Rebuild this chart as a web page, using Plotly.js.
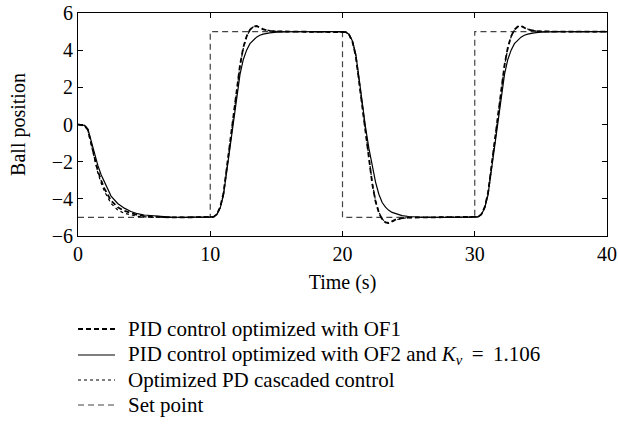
<!DOCTYPE html>
<html>
<head>
<meta charset="utf-8">
<script src="https://cdn.plot.ly/plotly-3.0.1.min.js"></script>
<style>html,body{margin:0;padding:0;background:#fff;}#chart{width:618px;height:426px;}</style>
</head>
<body>
<div id="chart"></div>
<script>
// Time samples (s)
const time = [0,0.25,0.5,0.75,1,1.25,1.5,1.75,2,2.5,3,3.5,4,4.5,5,6,7,8,10,
  10.25,10.5,10.75,11,11.25,11.5,11.75,12,12.25,12.5,12.75,13,13.25,13.5,13.75,14,14.5,15,16,18,20,
  20.25,20.5,20.75,21,21.25,21.5,21.75,22,22.25,22.5,22.75,23,23.25,23.5,23.75,24,24.5,25,26,28,30,
  30.25,30.5,30.75,31,31.25,31.5,31.75,32,32.25,32.5,32.75,33,33.25,33.5,33.75,34,34.5,35,36,38,40];

// PID control optimized with OF1 (dashed)
const pidOF1 = [0,-0.01,-0.06,-0.3,-1.0,-1.8,-2.5,-3.0,-3.45,-4.1,-4.45,-4.65,-4.78,-4.87,-4.93,-4.98,-5,-5,-5,
  -4.97,-4.83,-4.45,-3.7,-2.35,-0.85,0.55,1.9,3.2,4.15,4.75,5.1,5.27,5.3,5.22,5.12,5.04,5.01,5,5,5,
  4.97,4.83,4.45,3.7,2.35,0.85,-0.55,-1.9,-3.2,-4.15,-4.75,-5.1,-5.27,-5.3,-5.22,-5.12,-5.04,-5.01,-5,-5,-5,
  -4.97,-4.83,-4.45,-3.7,-2.35,-0.85,0.55,1.9,3.2,4.15,4.75,5.1,5.27,5.3,5.22,5.12,5.04,5.01,5,5,5];

// PID control optimized with OF2 and Kv = 1.106 (solid)
const pidOF2 = [0,-0.01,-0.05,-0.25,-0.9,-1.6,-2.2,-2.7,-3.1,-3.85,-4.25,-4.5,-4.68,-4.8,-4.87,-4.94,-4.98,-5,-5,
  -4.97,-4.85,-4.5,-3.8,-2.5,-1.05,0.3,1.6,2.7,3.5,4.0,4.35,4.55,4.7,4.8,4.86,4.93,4.97,4.99,5,5,
  4.97,4.85,4.5,3.8,2.5,1.05,-0.2,-1.3,-2.3,-3.1,-3.75,-4.2,-4.45,-4.62,-4.73,-4.8,-4.9,-4.95,-4.99,-5,-5,
  -4.97,-4.85,-4.5,-3.8,-2.5,-1.05,0.3,1.6,2.7,3.5,4.0,4.35,4.55,4.7,4.8,4.86,4.93,4.97,4.99,5,5];

// Optimized PD cascaded control (dotted)
const pdCascade = [0,-0.01,-0.06,-0.32,-1.05,-1.9,-2.6,-3.15,-3.6,-4.25,-4.6,-4.78,-4.88,-4.94,-4.97,-5,-5,-5,-5,
  -4.97,-4.83,-4.47,-3.75,-2.4,-0.9,0.5,1.85,3.15,4.1,4.72,5.08,5.26,5.31,5.24,5.14,5.05,5.01,5,5,5,
  4.97,4.83,4.47,3.75,2.4,0.9,-0.5,-1.85,-3.15,-4.1,-4.72,-5.08,-5.26,-5.31,-5.24,-5.14,-5.05,-5.01,-5,-5,-5,
  -4.97,-4.83,-4.47,-3.75,-2.4,-0.9,0.5,1.85,3.15,4.1,4.72,5.08,5.26,5.31,5.24,5.14,5.05,5.01,5,5,5];

// Set point
const spTime = [0,10,10,20,20,30,30,40];
const spValue = [-5,-5,5,5,-5,-5,5,5];

const xTicks = [0,10,20,30,40];
const yTicks = [-6,-4,-2,0,2,4,6];
const yTickText = ['\u22126','\u22124','\u22122','0','2','4','6'];

const names = ['PID control optimized with OF1',
  'PID control optimized with OF2 and <i>K</i><sub><i>v</i></sub>\u2009 = \u20091.106',
  'Optimized PD cascaded control',
  'Set point'];

const FONT = 'Liberation Serif, Times New Roman, serif';

const styles = [
  {color: '#000', width: 1.8, dash: '5px,3px'},
  {color: '#000', width: 1.2},
  {color: '#000', width: 1.2, dash: 'dot'},
  {color: '#444', width: 1.2, dash: '6px,4px'}
];

const traces = [
  {x: spTime, y: spValue, name: names[3], mode: 'lines', line: styles[3]},
  {x: time, y: pidOF2, name: names[1], mode: 'lines', line: styles[1]},
  {x: time, y: pdCascade, name: names[2], mode: 'lines', line: styles[2]},
  {x: time, y: pidOF1, name: names[0], mode: 'lines', line: styles[0]}
];

const axisCommon = {
  showline: true, mirror: 'ticks', linecolor: '#000', linewidth: 1,
  ticks: 'inside', ticklen: 5, tickcolor: '#000', tickwidth: 1,
  showgrid: false, zeroline: false,
  tickfont: {family: FONT, size: 20, color: '#000'}
};

// manual legend (below the plot)
const plotW = 529, plotH = 223;
const legendRowsPx = [93, 119, 144, 169];   // px below the plot bottom
const shapes = [], annotations = [];
styles.forEach((s, i) => {
  const yp = -legendRowsPx[i] / plotH;
  shapes.push({type: 'line', xref: 'paper', yref: 'paper',
    x0: 0, x1: 37 / plotW, y0: yp, y1: yp, line: s});
  annotations.push({xref: 'paper', yref: 'paper', x: 48 / plotW, y: yp,
    xanchor: 'left', yanchor: 'middle', showarrow: false, text: names[i],
    font: {family: FONT, size: 21, color: '#000'}});
});

const layout = {
  width: 618, height: 426,
  margin: {l: 78, r: 11, t: 13, b: 190},
  paper_bgcolor: '#fff', plot_bgcolor: '#fff',
  font: {family: FONT, size: 20, color: '#000'},
  showlegend: false,
  xaxis: Object.assign({}, axisCommon, {
    range: [0, 40], tickvals: xTicks, ticktext: xTicks.map(String),
    title: {text: 'Time (s)', font: {family: FONT, size: 20}, standoff: 10}
  }),
  yaxis: Object.assign({}, axisCommon, {
    range: [-6, 6], tickvals: yTicks, ticktext: yTickText,
    title: {text: 'Ball position', font: {family: FONT, size: 20}, standoff: 20}
  }),
  shapes: shapes,
  annotations: annotations
};

Plotly.newPlot('chart', traces, layout, {staticPlot: true, displayModeBar: false});
</script>
</body>
</html>
